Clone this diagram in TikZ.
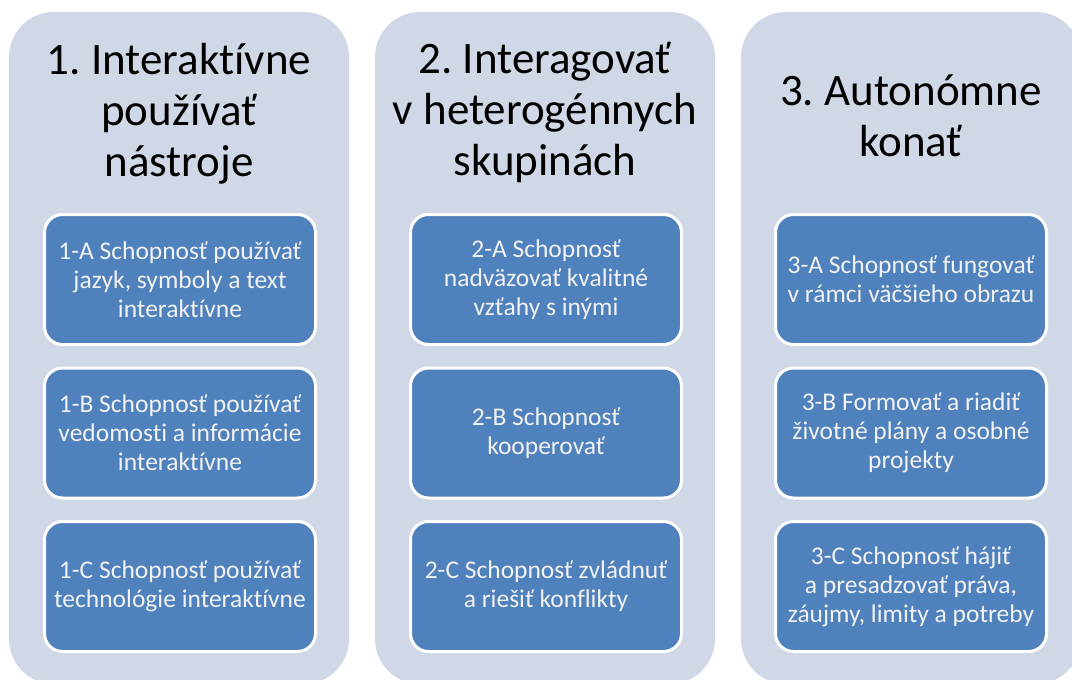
\documentclass[tikz,border=0pt]{standalone}
\usepackage{fontspec}
\setmainfont[RawFeature=-liga]{Carlito}
\frenchspacing
\definecolor{colbg}{HTML}{D0D8E8}
\definecolor{itembg}{HTML}{4F81BD}
\begin{document}
\begin{tikzpicture}[x=1pt,y=-1pt,
    col/.style={rounded corners=45pt,fill=colbg,minimum width=340pt,minimum height=672pt,inner sep=0pt},
    head/.style={align=center,font=\fontsize{45}{51}\selectfont,text=black},
    item/.style={rounded corners=18pt,fill=itembg,draw=white,line width=3pt,minimum width=271pt,minimum height=130pt,
        align=center,text=white!95!black,font=\fontsize{25.5}{29}\selectfont}
]
    \useasboundingbox (0,0) rectangle (1072,680);
    \clip (0,0) rectangle (1072,680);
    % columns
    \node[col] (c1) at (179,348) {};
    \node[col] (c2) at (545,348) {};
    \node[col] (c3) at (911,348) {};
    % headings
    \node[head] (h1) at (179,114) {1. Interaktívne\\používať\\nástroje};
    \node[head] (h2) at (545,112) {2. Interagovať\\v heterogénnych\\skupinách};
    \node[head] (h3) at (911,116) {3. Autonómne\\konať};
    % boxes
    \node[item] (a1) at (180,279.5) {1-A Schopnosť používať\\jazyk, symboly a text\\interaktívne};
    \node[item] (b1) at (180,433) {1-B Schopnosť používať\\vedomosti a informácie\\interaktívne};
    \node[item] (d1) at (180,586.5) {1-C Schopnosť používať\\technológie interaktívne};
    \node[item] (a2) at (546,279.5) {2-A Schopnosť\\nadväzovať kvalitné\\vzťahy s inými};
    \node[item] (b2) at (546,433) {2-B Schopnosť\\kooperovať};
    \node[item] (d2) at (546,586.5) {2-C Schopnosť zvládnuť\\a riešiť konflikty};
    \node[item] (a3) at (911,279.5) {3-A Schopnosť fungovať\\v rámci väčšieho obrazu};
    \node[item] (b3) at (911,433) {3-B Formovať a riadiť\\životné plány a osobné\\projekty};
    \node[item] (d3) at (911,586.5) {3-C Schopnosť hájiť\\a presadzovať práva,\\záujmy, limity a potreby};
\end{tikzpicture}
\end{document}
